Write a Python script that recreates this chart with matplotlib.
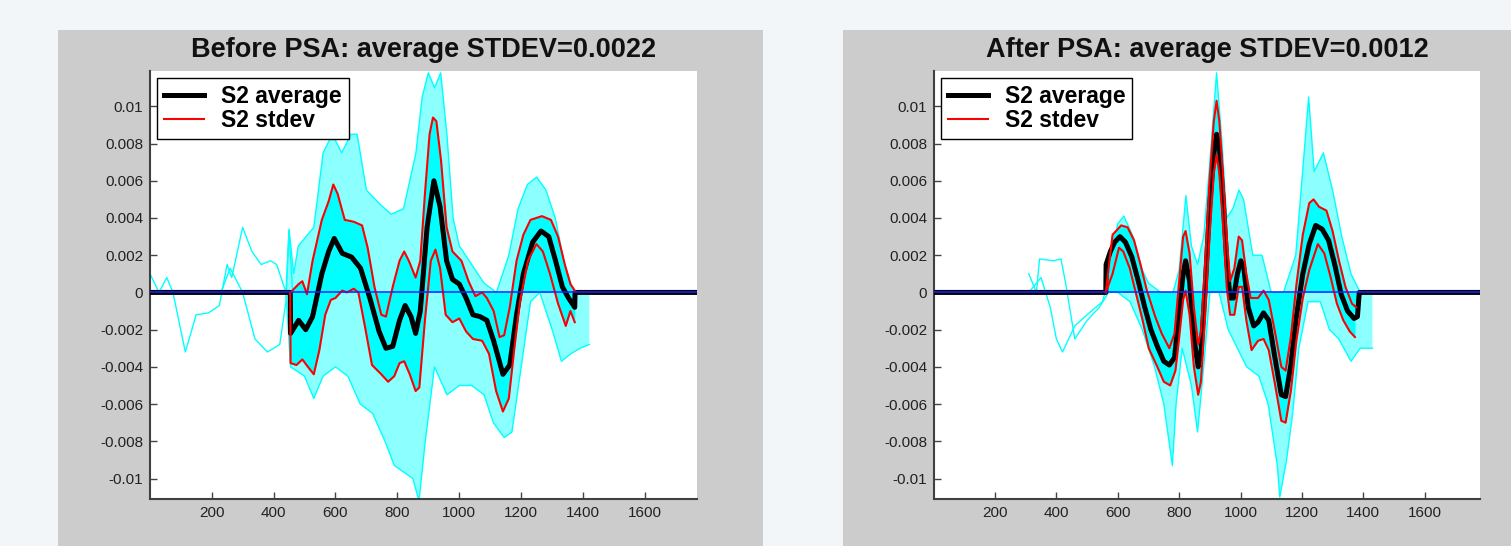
import matplotlib
matplotlib.use("Agg")
import matplotlib.pyplot as plt
from matplotlib.patches import Rectangle

plt.rcParams["font.family"] = ["Liberation Sans", "DejaVu Sans"]

# ---- tick values / labels ----
x_ticks = [200, 400, 600, 800, 1000, 1200, 1400, 1600]
y_ticks = [-0.01, -0.008, -0.006, -0.004, -0.002, 0, 0.002, 0.004, 0.006, 0.008, 0.01]
y_tick_labels = ["-0.01", "-0.008", "-0.006", "-0.004", "-0.002", "0",
                 "0.002", "0.004", "0.006", "0.008", "0.01"]
titles = ["Before PSA: average STDEV=0.0022", "After PSA: average STDEV=0.0012"]
legend_labels = ["S2 average", "S2 stdev"]

# ---- left panel (before PSA) ----
left_avg_x = [1, 454, 455, 481, 504, 526, 556, 578, 596, 622, 652, 681, 711, 741, 763, 785, 807, 825,
              844, 859, 874, 896, 918, 938, 959, 978, 1000, 1022, 1044, 1067, 1089, 1111, 1141, 1163,
              1185, 1207, 1237, 1264, 1289, 1311, 1333, 1353, 1373, 1374, 1768]
left_avg_y = [0, 0, -0.0022, -0.0015, -0.0020, -0.0013, 0.0010, 0.0022, 0.0029, 0.0021, 0.0019,
              0.0013, -0.0003, -0.0021, -0.0030, -0.0029, -0.0015, -0.0007, -0.0013, -0.0022, -0.0010,
              0.0035, 0.0060, 0.0046, 0.0017, 0.0007, 0.00045, -0.0003, -0.0012, -0.0013, -0.0015,
              -0.0026, -0.0044, -0.0039, -0.0012, 0.0010, 0.0027, 0.0033, 0.0030, 0.0017, 0.0003,
              -0.0003, -0.0008, 0, 0]

left_up_x = [455, 481, 493, 508, 526, 556, 578, 593, 607, 630, 659, 686, 704, 726, 748, 763, 785, 807,
             822, 837, 859, 874, 889, 904, 915, 926, 941, 959, 978, 1007, 1030, 1052, 1074, 1089, 1111,
             1130, 1145, 1163, 1185, 1207, 1230, 1267, 1296, 1319, 1341, 1359, 1373]
left_up_y = [0.0, 0.00045, 0.0006, -0.0001, 0.0017, 0.0039, 0.0049, 0.0058, 0.0053, 0.0039, 0.0038,
             0.0036, 0.0024, 0.0003, -0.0012, -0.0013, 0.0003, 0.0017, 0.0022, 0.0017, 0.0008, 0.0017,
             0.0053, 0.0085, 0.0094, 0.0092, 0.0071, 0.0035, 0.0022, 0.0017, 0.0006, -0.0002, 0.0,
             -0.0003, -0.0010, -0.0024, -0.0023, -0.0008, 0.0017, 0.0031, 0.0039, 0.0041, 0.0039,
             0.0030, 0.0015, 0.00045, 0.0001]

left_lo_x = [454, 455, 474, 493, 511, 530, 548, 567, 585, 600, 622, 637, 659, 674, 696, 718, 748, 770,
             790, 807, 822, 840, 859, 871, 889, 908, 923, 938, 956, 978, 1000, 1022, 1044, 1074, 1096,
             1119, 1141, 1160, 1178, 1196, 1222, 1249, 1270, 1293, 1319, 1344, 1359, 1373]
left_lo_y = [0.0, -0.0038, -0.0039, -0.0036, -0.0040, -0.0044, -0.0031, -0.0012, -0.0004, -0.0003,
             0.0001, 0.0, 0.0002, 0.0, -0.0019, -0.0039, -0.0044, -0.0048, -0.0045, -0.0038, -0.0037,
             -0.0044, -0.0053, -0.0051, -0.0015, 0.0017, 0.0023, 0.0013, -0.0012, -0.0016, -0.0014,
             -0.0021, -0.0025, -0.0026, -0.0033, -0.0053, -0.0064, -0.0057, -0.0030, -0.0005, 0.0017,
             0.0026, 0.0022, 0.0010, -0.0006, -0.0018, -0.0010, -0.0016]

# outer extent of the individual cyan traces
left_env_up_x = [440, 450, 465, 480, 530, 560, 590, 620, 650, 670, 700, 740, 780, 820, 860, 880, 900,
                 920, 940, 960, 980, 1000, 1040, 1080, 1120, 1160, 1190, 1220, 1250, 1280, 1310, 1340,
                 1370, 1400, 1420]
left_env_up_y = [0.0, 0.0034, 0.0010, 0.0025, 0.0035, 0.0075, 0.0085, 0.0075, 0.0085, 0.0085, 0.0055,
                 0.0048, 0.0042, 0.0045, 0.0075, 0.0105, 0.0118, 0.0110, 0.0118, 0.0085, 0.0040,
                 0.0025, 0.0015, 0.0005, 0.0, 0.0020, 0.0045, 0.0058, 0.0062, 0.0055, 0.0040, 0.0015,
                 0.0, 0.0, 0.0]
left_env_lo_x = [440, 455, 500, 530, 560, 600, 640, 680, 720, 760, 790, 850, 870, 890, 920, 960, 1000,
                 1040, 1080, 1110, 1145, 1170, 1200, 1230, 1260, 1300, 1330, 1360, 1390, 1420]
left_env_lo_y = [0.0, -0.0040, -0.0045, -0.0057, -0.0045, -0.0040, -0.0045, -0.0060, -0.0065,
                 -0.0080, -0.0093, -0.0100, -0.0112, -0.0080, -0.0040, -0.0055, -0.0050, -0.0050,
                 -0.0055, -0.0070, -0.0078, -0.0075, -0.0040, -0.0005, 0.0, -0.0020, -0.0037,
                 -0.0033, -0.0030, -0.0028]

left_tr1_x = [1, 30, 55, 75, 115, 150, 190, 225, 250, 265, 300, 330, 360, 390, 410, 440]
left_tr1_y = [0.0010, 0.0, 0.0008, 0.0, -0.0032, -0.0012, -0.0011, -0.0007, 0.0015, 0.0008, 0.0035,
              0.0022, 0.0015, 0.0017, 0.0015, 0.0]
left_tr2_x = [230, 260, 300, 340, 380, 420, 440, 450, 465]
left_tr2_y = [0.0, 0.0013, 0.0, -0.0025, -0.0032, -0.0028, -0.0005, 0.0033, -0.0010]

# ---- right panel (after PSA) ----
right_avg_x = [1, 561, 562, 576, 590, 607, 625, 646, 667, 688, 708, 729, 750, 768, 785, 799, 813, 821,
               834, 848, 862, 871, 885, 899, 913, 922, 931, 945, 955, 966, 977, 990, 1001, 1011, 1025,
               1043, 1057, 1075, 1092, 1112, 1133, 1147, 1164, 1182, 1203, 1224, 1245, 1266, 1287,
               1307, 1328, 1349, 1370, 1381, 1387, 1780]
right_avg_y = [0, 0, 0.0015, 0.0022, 0.0027, 0.0030, 0.0027, 0.0019, 0.0006, -0.0008, -0.0020,
               -0.0029, -0.0037, -0.0039, -0.0035, -0.0012, 0.0010, 0.0017, 0.0006, -0.0024, -0.0040,
               -0.0033, 0.0003, 0.0046, 0.0074, 0.0085, 0.0078, 0.0046, 0.0017, -0.0003, -0.0003,
               0.0010, 0.0017, 0.0013, -0.0008, -0.0018, -0.0016, -0.0011, -0.0015, -0.0035, -0.0055,
               -0.0056, -0.0039, -0.0013, 0.0010, 0.0026, 0.0036, 0.0034, 0.0028, 0.0015, -0.0001,
               -0.0010, -0.0014, -0.0013, 0, 0]

right_up_x = [561, 583, 611, 632, 653, 674, 695, 722, 743, 768, 785, 799, 813, 821, 834, 848, 862, 871,
              885, 899, 913, 922, 931, 945, 955, 966, 980, 994, 1005, 1019, 1033, 1057, 1075, 1092,
              1112, 1133, 1147, 1164, 1182, 1203, 1224, 1238, 1256, 1280, 1300, 1321, 1342, 1363, 1377]
right_up_y = [0.0, 0.0031, 0.0036, 0.0035, 0.0028, 0.0015, 0.0001, -0.0013, -0.0022, -0.0030,
              -0.0022, 0.0004, 0.0030, 0.0033, 0.0021, -0.0008, -0.0028, -0.0021, 0.0017, 0.0060,
              0.0092, 0.0103, 0.0092, 0.0058, 0.0030, 0.0006, 0.0013, 0.0030, 0.0028, 0.0010,
              -0.0003, -0.0003, 0.0001, -0.0004, -0.0021, -0.0040, -0.0042, -0.0024, 0.0004, 0.0031,
              0.0048, 0.0050, 0.0046, 0.0044, 0.0033, 0.0017, 0.0003, -0.0006, -0.0008]

right_lo_x = [561, 583, 604, 618, 639, 660, 681, 701, 729, 750, 771, 788, 799, 813, 821, 834, 848, 862,
              871, 885, 899, 913, 922, 931, 945, 955, 966, 980, 994, 1005, 1019, 1036, 1057, 1075,
              1092, 1112, 1133, 1147, 1164, 1182, 1203, 1224, 1252, 1273, 1294, 1314, 1335, 1356, 1373]
right_lo_y = [0.0, 0.0010, 0.0024, 0.0022, 0.0013, -0.0001, -0.0015, -0.0030, -0.0040, -0.0048,
              -0.0050, -0.0042, -0.0026, -0.0004, 0.0001, -0.0012, -0.0040, -0.0055, -0.0048, -0.0012,
              0.0030, 0.0064, 0.0074, 0.0064, 0.0031, 0.0003, -0.0012, -0.0012, 0.0003, 0.0003,
              -0.0015, -0.0031, -0.0026, -0.0025, -0.0031, -0.0049, -0.0069, -0.0070, -0.0053,
              -0.0026, -0.0003, 0.0012, 0.0026, 0.0021, 0.0008, -0.0006, -0.0015, -0.0021, -0.0024]

right_env_up_x = [560, 580, 600, 620, 650, 680, 700, 740, 780, 800, 822, 840, 860, 880, 900, 922, 940,
                  955, 975, 995, 1010, 1040, 1070, 1100, 1140, 1180, 1200, 1222, 1240, 1270, 1300,
                  1330, 1360, 1390, 1430]
right_env_up_y = [0.0, 0.0020, 0.0037, 0.0041, 0.0030, 0.0012, 0.0005, 0.0, 0.0, 0.0012, 0.0052,
                  0.0025, 0.0015, 0.0030, 0.0070, 0.0118, 0.0080, 0.0040, 0.0045, 0.0055, 0.0050,
                  0.0020, 0.0020, 0.0, 0.0, 0.0020, 0.0060, 0.0105, 0.0065, 0.0075, 0.0055, 0.0030,
                  0.0010, 0.0, 0.0]
right_env_lo_x = [560, 600, 640, 680, 720, 750, 778, 790, 810, 840, 860, 880, 900, 930, 960, 990, 1020,
                  1060, 1090, 1120, 1128, 1150, 1170, 1190, 1220, 1260, 1290, 1320, 1360, 1390, 1430]
right_env_lo_y = [0.0, 0.0, -0.0005, -0.0020, -0.0040, -0.0060, -0.0093, -0.0060, -0.0030, -0.0050,
                  -0.0075, -0.0040, 0.0, 0.0, -0.0020, -0.0030, -0.0040, -0.0045, -0.0060, -0.0093,
                  -0.0110, -0.0090, -0.0065, -0.0030, -0.0005, -0.0005, -0.0020, -0.0025, -0.0037,
                  -0.0030, -0.0030]

right_tr1_x = [310, 335, 345, 390, 415, 430, 460, 500, 540, 570]
right_tr1_y = [0.0010, 0.0, 0.0018, 0.0017, 0.0018, 0.0005, -0.0025, -0.0015, -0.0008, 0.0]
right_tr2_x = [310, 350, 380, 400, 420, 460, 500, 550, 580]
right_tr2_y = [0.0, 0.0008, -0.0008, -0.0025, -0.0032, -0.0018, -0.0012, -0.0005, 0.0012]

CYAN = "#00ffff"


def draw_panel(ax, title, xmax, avg, up, lo, env_up, env_lo, traces):
    # outer spread of the single traces
    ex = list(env_up[0]) + list(env_lo[0])[::-1]
    ey = list(env_up[1]) + list(env_lo[1])[::-1]
    ax.fill(ex, ey, color=CYAN, alpha=0.45, lw=0)
    ax.plot(env_up[0], env_up[1], color=CYAN, lw=1)
    ax.plot(env_lo[0], env_lo[1], color=CYAN, lw=1)
    for tx, ty in traces:
        ax.plot(tx, ty, color=CYAN, lw=1)
    # dense core: the traces piled up between the stdev curves and the baseline
    ax.fill_between(up[0], up[1], 0, color=CYAN, lw=0)
    ax.fill_between(lo[0], lo[1], 0, color=CYAN, lw=0)
    ax.fill_between(avg[0], avg[1], 0, color=CYAN, lw=0)

    ax.plot(avg[0], avg[1], color="black", lw=3.6, label=legend_labels[0], zorder=4)
    ax.plot(up[0], up[1], color="#ff0000", lw=1.5, label=legend_labels[1], zorder=5)
    ax.plot(lo[0], lo[1], color="#ff0000", lw=1.5, zorder=5)
    ax.axhline(0, color="#2020ff", lw=1.1, zorder=6)

    ax.set_xlim(1, xmax)
    ax.set_ylim(-0.0111, 0.0119)
    ax.set_xticks(x_ticks)
    ax.set_yticks(y_ticks)
    ax.set_yticklabels(y_tick_labels)
    ax.tick_params(direction="in", length=5, width=1, colors="#444444", labelsize=11, pad=5)
    for lab in ax.get_xticklabels() + ax.get_yticklabels():
        lab.set_color("#222222")
    for s in ("top", "right"):
        ax.spines[s].set_visible(False)
    for s in ("left", "bottom"):
        ax.spines[s].set_color("#404040")
        ax.spines[s].set_linewidth(1.5)
    ax.set_title(title, fontsize=19.5, fontweight="bold", pad=10, color="#111111")
    leg = ax.legend(loc="upper left", fancybox=False, framealpha=1, edgecolor="black",
                    prop={"weight": "bold", "size": 16.5}, handlelength=1.75, handletextpad=0.75,
                    borderaxespad=0.3, borderpad=0.3, labelspacing=0.05)
    leg.get_frame().set_linewidth(1.0)


fig = plt.figure(figsize=(15.11, 5.46), dpi=100)
fig.patch.set_facecolor("#f3f6f9")
fig.patches.append(Rectangle((0.0384, 0.0), 0.4666, 0.945, transform=fig.transFigure,
                             facecolor="#cccccc", edgecolor="none", zorder=-5))
fig.patches.append(Rectangle((0.5579, 0.0), 0.4421, 0.945, transform=fig.transFigure,
                             facecolor="#cccccc", edgecolor="none", zorder=-5))

ax1 = fig.add_axes([0.0993, 0.0861, 0.362, 0.7839])
ax2 = fig.add_axes([0.6181, 0.0861, 0.3613, 0.7839])
ax1.set_zorder(2)
ax2.set_zorder(2)

draw_panel(ax1, titles[0], 1768, (left_avg_x, left_avg_y), (left_up_x, left_up_y),
           (left_lo_x, left_lo_y), (left_env_up_x, left_env_up_y), (left_env_lo_x, left_env_lo_y),
           [(left_tr1_x, left_tr1_y), (left_tr2_x, left_tr2_y)])
draw_panel(ax2, titles[1], 1780, (right_avg_x, right_avg_y), (right_up_x, right_up_y),
           (right_lo_x, right_lo_y), (right_env_up_x, right_env_up_y),
           (right_env_lo_x, right_env_lo_y),
           [(right_tr1_x, right_tr1_y), (right_tr2_x, right_tr2_y)])

fig.savefig("out.png", dpi=100, facecolor=fig.get_facecolor())
